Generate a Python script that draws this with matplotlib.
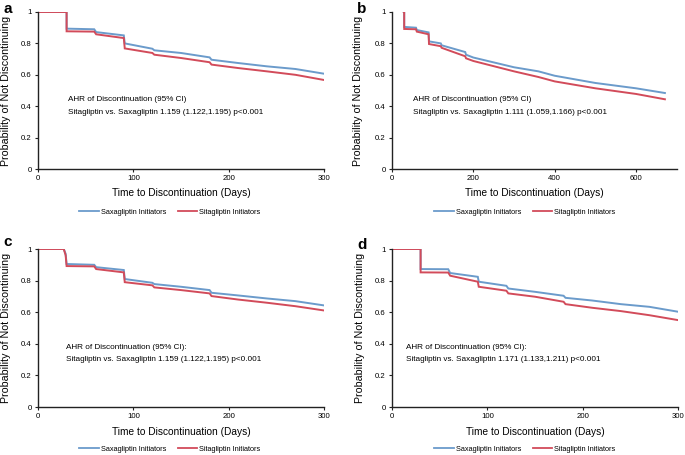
import matplotlib
matplotlib.use("Agg")
import matplotlib.pyplot as plt
from matplotlib.lines import Line2D

plt.rcParams['font.family'] = ['Liberation Sans', 'DejaVu Sans']

# ---------------- data ----------------
# Panel a
a_t = [0, 30, 30, 59, 61, 90, 91, 120, 122, 150, 180, 182, 210, 240, 270, 300]
a_saxa = [1, 1, 0.894, 0.89, 0.872, 0.851, 0.80, 0.766, 0.756, 0.739, 0.711, 0.696, 0.675, 0.654, 0.637, 0.607]
a_sita = [1, 1, 0.877, 0.875, 0.858, 0.834, 0.768, 0.739, 0.728, 0.707, 0.68, 0.665, 0.643, 0.622, 0.60, 0.567]

# Panel b
b_t = [29, 30, 30, 59, 61, 90, 91, 120, 122, 180, 182, 200, 300, 360, 400, 500, 600, 671]
b_saxa = [1, 1, 0.905, 0.90, 0.885, 0.870, 0.813, 0.80, 0.788, 0.745, 0.728, 0.71, 0.648, 0.622, 0.594, 0.548, 0.514, 0.484]
b_sita = [1, 1, 0.892, 0.89, 0.875, 0.858, 0.796, 0.782, 0.772, 0.718, 0.705, 0.688, 0.622, 0.586, 0.558, 0.514, 0.478, 0.444]

# Panel c
c_t = [0, 27, 29, 30, 59, 61, 90, 91, 120, 122, 150, 180, 182, 210, 240, 270, 300]
c_saxa = [1, 1, 0.97, 0.905, 0.90, 0.885, 0.867, 0.81, 0.786, 0.778, 0.761, 0.74, 0.723, 0.706, 0.687, 0.67, 0.643]
c_sita = [1, 1, 0.96, 0.892, 0.89, 0.873, 0.852, 0.79, 0.77, 0.757, 0.74, 0.719, 0.702, 0.68, 0.66, 0.638, 0.611]

# Panel d
d_t = [0, 30, 30, 59, 61, 90, 91, 120, 122, 150, 180, 182, 210, 240, 270, 300]
d_saxa = [1, 1, 0.873, 0.872, 0.848, 0.824, 0.793, 0.767, 0.75, 0.729, 0.704, 0.691, 0.674, 0.651, 0.634, 0.603]
d_sita = [1, 1, 0.852, 0.851, 0.831, 0.793, 0.761, 0.736, 0.719, 0.698, 0.666, 0.651, 0.628, 0.607, 0.581, 0.55]

panel_letters = ['a', 'b', 'c', 'd']
hr_lines = [
    ("AHR of Discontinuation (95% CI)", "Sitagliptin vs. Saxagliptin 1.159 (1.122,1.195) p<0.001"),
    ("AHR of Discontinuation (95% CI)", "Sitagliptin vs. Saxagliptin 1.111 (1.059,1.166) p<0.001"),
    ("AHR of Discontinuation (95% CI):", "Sitagliptin vs. Saxagliptin 1.159 (1.122,1.195) p<0.001"),
    ("AHR of Discontinuation (95% CI):", "Sitagliptin vs. Saxagliptin 1.171 (1.133,1.211) p<0.001"),
]
y_ticks = [0, 0.2, 0.4, 0.6, 0.8, 1]
y_ticklabels = ['0', '0.2', '0.4', '0.6', '0.8', '1']
legend_labels = ['Saxagliptin Initiators', 'Sitagliptin Initiators']

# ---------------- layout ----------------
W, H = 685, 455
fig = plt.figure(figsize=(W / 100, H / 100), dpi=100)

BLUE = '#6b9bcb'
RED = '#d24b5a'

panels = [
    dict(t=a_t, s=a_saxa, r=a_sita, rect=(38, 12, 324, 169), xlim=300, xt=[0, 100, 200, 300],
         txt=(31, 0.44), letter=(3, 9), ylab_x=6, leg_y=212, xlab_y=193, panel_cx=170),
    dict(t=b_t, s=b_saxa, r=b_sita, rect=(392, 12, 676.7, 169), xlim=700, xt=[0, 200, 400, 600],
         txt=(52, 0.44), letter=(357, 9), ylab_x=358, leg_y=212, xlab_y=193, panel_cx=525),
    dict(t=c_t, s=c_saxa, r=c_sita, rect=(38, 249, 324, 407), xlim=300, xt=[0, 100, 200, 300],
         txt=(29, 0.376), letter=(3, 242), ylab_x=6, leg_y=449, xlab_y=432, panel_cx=170),
    dict(t=d_t, s=d_saxa, r=d_sita, rect=(392, 249, 678, 407), xlim=300, xt=[0, 100, 200, 300],
         txt=(15, 0.376), letter=(357, 245), ylab_x=360, leg_y=449, xlab_y=432, panel_cx=525),
]

for i, p in enumerate(panels):
    x0, y0, x1, y1 = p['rect']
    ax = fig.add_axes([x0 / W, 1 - y1 / H, (x1 - x0) / W, (y1 - y0) / H])
    ax.plot(p['t'], p['s'], color=BLUE, lw=1.4, solid_joinstyle='miter')
    ax.plot(p['t'], p['r'], color=RED, lw=1.4, solid_joinstyle='miter')
    ax.set_xlim(0, p['xlim'])
    ax.set_ylim(0, 1)
    ax.set_xticks(p['xt'])
    ax.set_xticklabels([str(v) for v in p['xt']], fontsize=5.6)
    ax.set_yticks(y_ticks)
    ax.set_yticklabels(y_ticklabels, fontsize=5.6)
    for sp in ['top', 'right']:
        ax.spines[sp].set_visible(False)
    for sp in ['left', 'bottom']:
        ax.spines[sp].set_color('#222222')
        ax.spines[sp].set_linewidth(1.0)
    ax.tick_params(axis='both', length=2.5, width=0.8, color='#222222', pad=2)
    ax.patch.set_alpha(0)

    tx, ty = p['txt']
    ax.text(tx, ty, hr_lines[i][0], fontsize=5.9, va='center', ha='left')
    ax.text(tx, ty - 0.078, hr_lines[i][1], fontsize=5.9, va='center', ha='left')

    fig.text((x0 + x1) / 2 / W, 1 - p['xlab_y'] / H, 'Time to Discontinuation (Days)',
             fontsize=7.3, ha='center', va='center')
    fig.text(p['ylab_x'] / W, 1 - (y0 + y1) / 2 / H, 'Probability of Not Discontinuing',
             fontsize=7.7, ha='center', va='center', rotation=90)
    fig.text(p['letter'][0] / W, 1 - p['letter'][1] / H, panel_letters[i],
             fontsize=11, fontweight='bold', ha='left', va='center')

    handles = [Line2D([], [], color=BLUE, lw=1.3), Line2D([], [], color=RED, lw=1.3)]
    fig.legend(handles, legend_labels, loc='center',
               bbox_to_anchor=(p['panel_cx'] / W, 1 - p['leg_y'] / H),
               ncol=2, frameon=False, fontsize=5.3, handlelength=2.6,
               handletextpad=0.3, columnspacing=1.6, borderaxespad=0)

fig.savefig('out.png', dpi=100)
